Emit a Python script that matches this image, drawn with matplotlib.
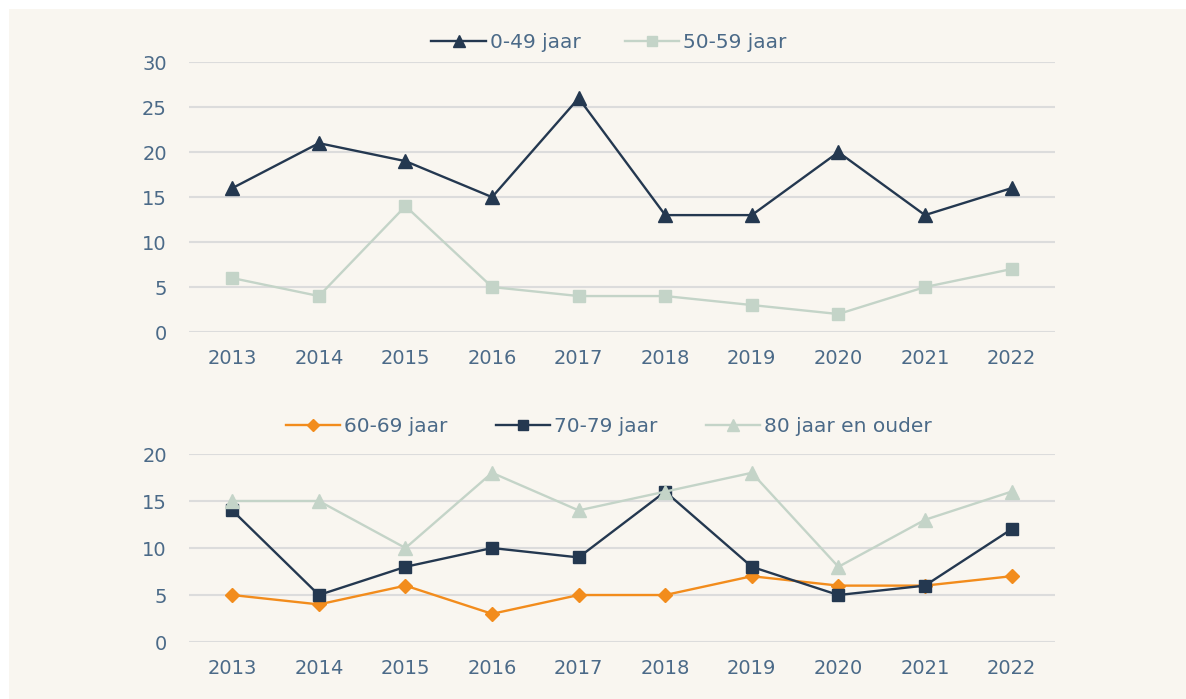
import matplotlib
matplotlib.use("Agg")
import matplotlib.pyplot as plt
from matplotlib.patches import Rectangle

years = ["2013", "2014", "2015", "2016", "2017", "2018", "2019", "2020", "2021", "2022"]

# bovenste grafiek
jaar_0_49 = [16, 21, 19, 15, 26, 13, 13, 20, 13, 16]
jaar_50_59 = [6, 4, 14, 5, 4, 4, 3, 2, 5, 7]

# onderste grafiek
jaar_60_69 = [5, 4, 6, 3, 5, 5, 7, 6, 6, 7]
jaar_70_79 = [14, 5, 8, 10, 9, 16, 8, 5, 6, 12]
jaar_80_plus = [15, 15, 10, 18, 14, 16, 18, 8, 13, 16]

BG = "#f9f6f0"
NAVY = "#243850"
SAGE = "#c4d4c8"
ORANGE = "#f28c1c"
TXT = "#4b6a88"
GRID = "#dcdcdc"

plt.rcParams['font.family'] = ['DejaVu Sans']
plt.rcParams['font.size'] = 14

fig = plt.figure(figsize=(11.86, 6.99), dpi=100, facecolor="white")
fig.patches.append(Rectangle((9 / 1186, 0), 1, 1 - 9 / 699, transform=fig.transFigure,
                             facecolor=BG, edgecolor="none", zorder=-10))

ax1 = fig.add_axes([0.1594, 0.525, 0.730, 0.386])
ax2 = fig.add_axes([0.1594, 0.0815, 0.730, 0.269])

x = list(range(len(years)))


def style(ax, top, step):
    ax.set_facecolor("none")
    ax.set_xlim(-0.5, len(years) - 0.5)
    ax.set_ylim(0, top)
    ax.set_yticks(range(0, top + 1, step))
    ax.set_xticks(x)
    ax.set_xticklabels(years)
    ax.yaxis.grid(True, color=GRID, linewidth=1.5)
    ax.set_axisbelow(True)
    for s in ax.spines.values():
        s.set_visible(False)
    ax.tick_params(length=0, colors=TXT, labelsize=14)
    ax.tick_params(axis="x", pad=12)
    ax.tick_params(axis="y", pad=16)


leg_kw = dict(loc="lower center", frameon=False, labelcolor=TXT, fontsize=14.5,
              handlelength=2.7, handletextpad=0.2, markerscale=0.85)

ax1.plot(x, jaar_0_49, color=NAVY, lw=1.7, marker="^", ms=10, label="0-49 jaar", clip_on=False)
ax1.plot(x, jaar_50_59, color=SAGE, lw=1.7, marker="s", ms=8, label="50-59 jaar", clip_on=False)
style(ax1, 30, 5)
ax1.legend(bbox_to_anchor=(0.485, 1.0), ncol=2, borderaxespad=0.1,
           columnspacing=2.2, **leg_kw)

ax2.plot(x, jaar_60_69, color=ORANGE, lw=1.7, marker="D", ms=7.5, label="60-69 jaar", clip_on=False)
ax2.plot(x, jaar_70_79, color=NAVY, lw=1.7, marker="s", ms=8, label="70-79 jaar", clip_on=False)
ax2.plot(x, jaar_80_plus, color=SAGE, lw=1.7, marker="^", ms=10, label="80 jaar en ouder", clip_on=False)
style(ax2, 20, 5)
ax2.legend(bbox_to_anchor=(0.485, 1.0), ncol=3, borderaxespad=0.5,
           columnspacing=2.4, **leg_kw)

fig.savefig("out.png", dpi=100, facecolor="white")
